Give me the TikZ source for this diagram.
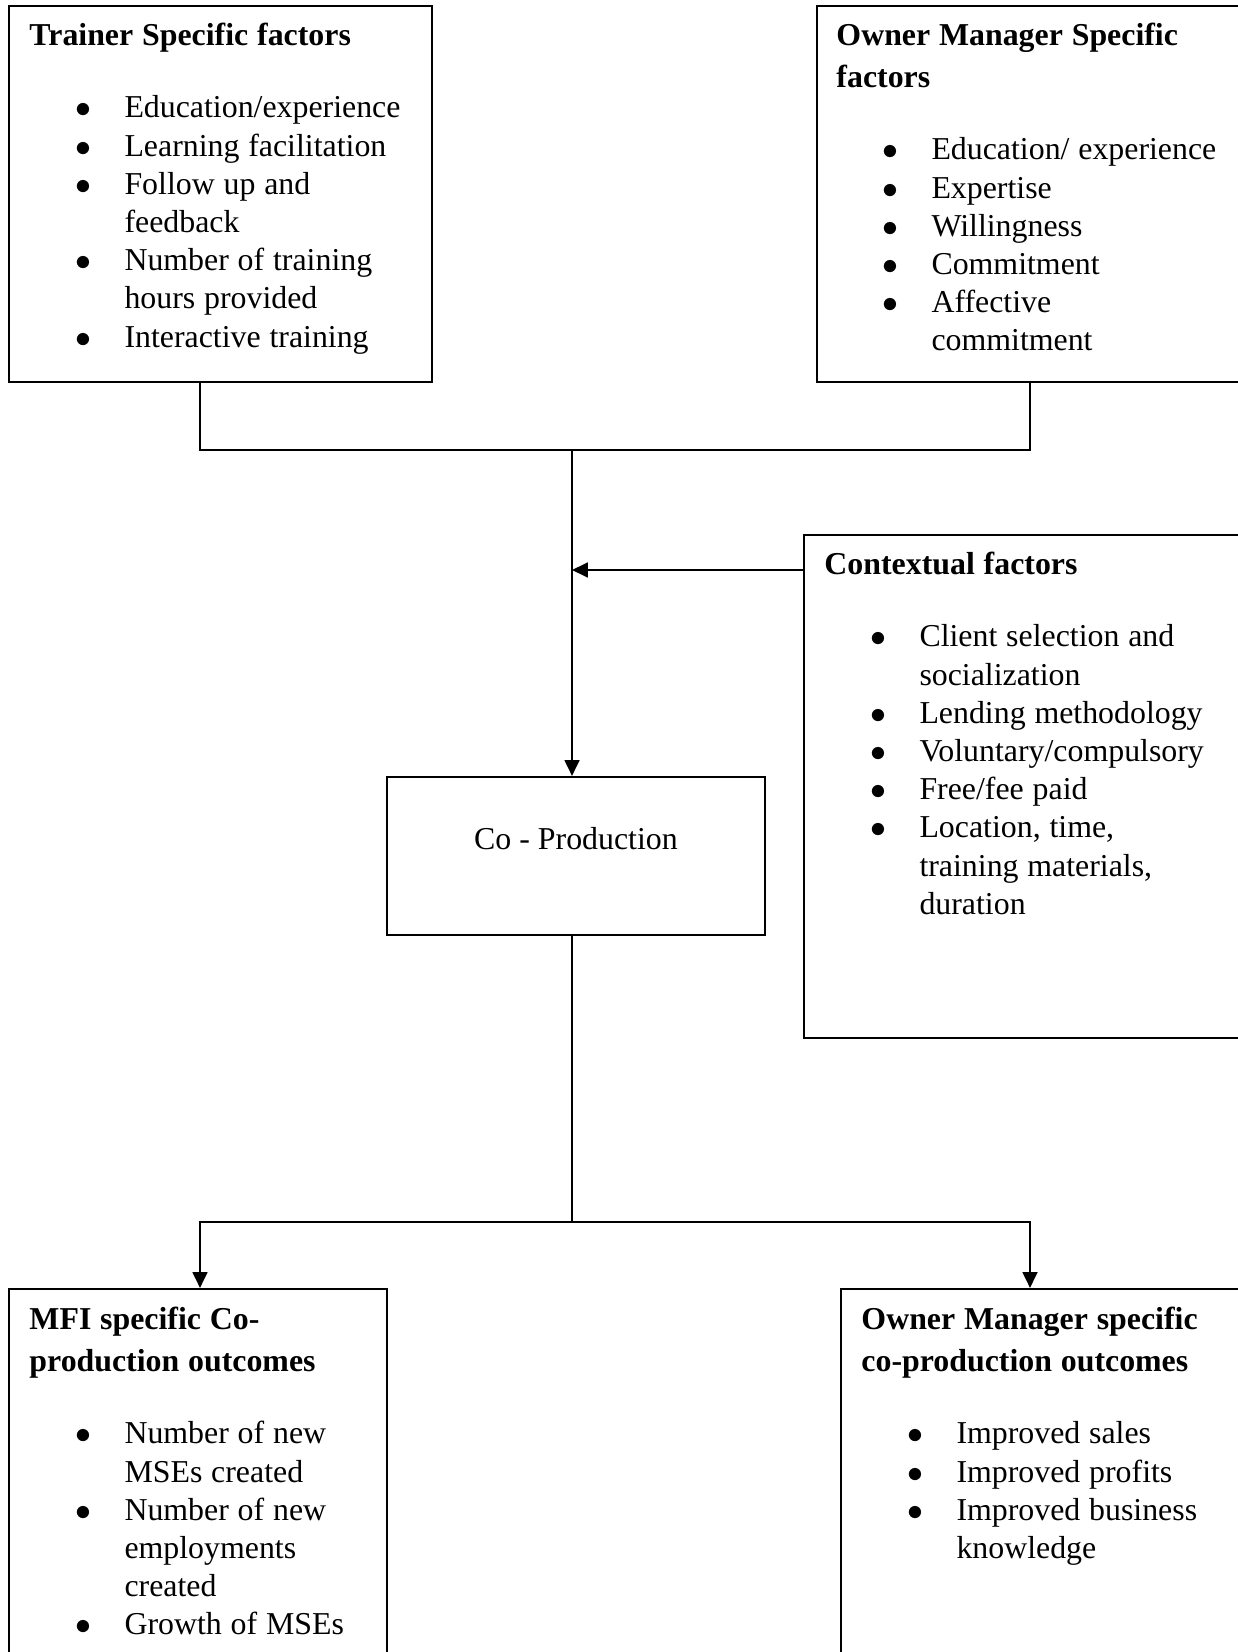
\documentclass[tikz,border=0pt]{standalone}
\usepackage{fontspec}
\setmainfont{Liberation Serif}
\usetikzlibrary{arrows.meta,fit}

\newenvironment{factlist}{%
  \fontsize{12}{14.4}\selectfont
  \begin{list}{$\bullet$}{%
    \setlength{\leftmargin}{35.8pt}%
    \setlength{\labelsep}{12.4pt}%
    \setlength{\labelwidth}{23.4pt}%
    \setlength{\itemsep}{0pt}\setlength{\parsep}{0pt}%
    \setlength{\topsep}{0pt}\setlength{\partopsep}{0pt}}}
  {\end{list}}
\newcommand{\boxtitle}[1]{{\fontsize{12}{15.8}\selectfont\bfseries #1\par}\vspace{12.7pt}}

\begin{document}
\begin{tikzpicture}[x=0.3767pt, y=-0.3767pt,
    box/.style={draw, line width=0.8pt, inner sep=0pt},
    txt/.style={anchor=north west, inner sep=0pt, text width=165pt, align=left},
    link/.style={line width=0.8pt},
    arr/.style={link, -{Triangle[length=6pt, width=5.6pt]}}]
  \useasboundingbox (0,0) rectangle (1237,1652);

  \node[box, fit={(9,6) (432,382)}] (trainer) {};
  \node[box, fit={(817,6) (1250,382)}] (owner) {};
  \node[box, fit={(804,535) (1250,1038)}] (context) {};
  \node[box, fit={(387,777) (765,935)}] (coprod) {};
  \node[box, fit={(9,1289) (387,1665)}] (mfi) {};
  \node[box, fit={(841,1289) (1250,1665)}] (outcome) {};

  \node[txt] (trainertext) at ([shift={(21,18)}]trainer.north west) {%
    \boxtitle{Trainer Specific factors}
    \begin{factlist}
    \item Education/experience
    \item Learning facilitation
    \item Follow up and\\ feedback
    \item Number of training\\ hours provided
    \item Interactive training
    \end{factlist}};
  \node[txt] (ownertext) at ([shift={(20,18)}]owner.north west) {%
    \boxtitle{Owner Manager Specific\\ factors}
    \begin{factlist}
    \item Education/ experience
    \item Expertise
    \item Willingness
    \item Commitment
    \item Affective\\ commitment
    \end{factlist}};
  \node[txt] (contexttext) at ([shift={(21,18)}]context.north west) {%
    \boxtitle{Contextual factors}
    \begin{factlist}
    \item Client selection and\\ socialization
    \item Lending methodology
    \item Voluntary/compulsory
    \item Free/fee paid
    \item Location, time,\\ training materials,\\ duration
    \end{factlist}};
  \node[anchor=base, inner sep=0pt, font=\fontsize{12}{14.4}\selectfont] (coprodtext) at (576,849) {Co - Production};
  \node[txt] (mfitext) at ([shift={(21,19)}]mfi.north west) {%
    \boxtitle{MFI specific Co-\\production outcomes}
    \begin{factlist}
    \item Number of new\\ MSEs created
    \item Number of new\\ employments\\ created
    \item Growth of MSEs
    \end{factlist}};
  \node[txt] (outcometext) at ([shift={(21,19)}]outcome.north west) {%
    \boxtitle{Owner Manager specific\\ co-production outcomes}
    \begin{factlist}
    \item Improved sales
    \item Improved profits
    \item Improved business\\ knowledge
    \end{factlist}};

  \coordinate (tl) at (200,450);
  \coordinate (tr) at (1030,450);
  \coordinate (jt) at (572,450);
  \coordinate (jc) at (572,570);
  \coordinate (jb) at (572,1222);
  \coordinate (bl) at (200,1222);
  \coordinate (br) at (1030,1222);

  \draw[link] (trainer.south -| tl) -- (tl) -- (tr) -- (owner.south -| tr);
  \draw[arr] (jt) -- (jt |- coprod.north);
  \draw[arr] (context.west |- jc) -- (jc);
  \draw[link] (coprod.south -| jb) -- (jb);
  \draw[arr] (jb) -- (bl) -- (bl |- mfi.north);
  \draw[arr] (jb) -- (br) -- (br |- outcome.north);
\end{tikzpicture}
\end{document}
